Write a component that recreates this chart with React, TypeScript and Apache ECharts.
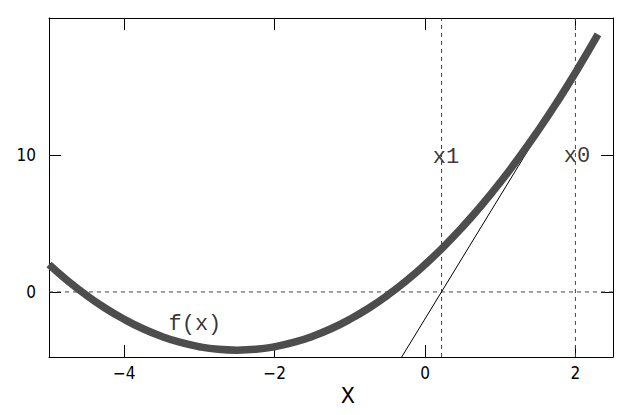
import React, { useEffect, useRef } from "react";
import * as echarts from "echarts";

// f(x)
const curveX = [
  -5, -4.75, -4.5, -4.25, -4, -3.75, -3.5, -3.25, -3, -2.75, -2.5, -2.25, -2, -1.75, -1.5, -1.25,
  -1, -0.75, -0.5, -0.25, 0, 0.25, 0.5, 0.75, 1, 1.25, 1.5, 1.75, 2, 2.3,
];
const curveY = [
  2, 0.81, -0.25, -1.19, -2, -2.69, -3.25, -3.69, -4, -4.19, -4.25, -4.19, -4, -3.69, -3.25, -2.69,
  -2, -1.19, -0.25, 0.81, 2, 3.31, 4.75, 6.31, 8, 9.81, 11.75, 13.81, 16, 18.8,
];

// tangent at x0
const tangentX = [-0.31, 2];
const tangentY = [-4.75, 16];

const x0 = 2;
const x1 = 0.22;

const xTicks = [-4, -2, 0, 2];
const yTicks = [0, 10];

const X_MIN = -5;
const X_MAX = 2.5;
const Y_MIN = -4.75;
const Y_MAX = 20;

const labels = [
  { name: "x1", x: 0.28, y: 9.8 },
  { name: "x0", x: 2.02, y: 9.9 },
  { name: "f(x)", x: -3.06, y: -2.4 },
];

const MONO = "'Liberation Mono', 'Courier New', monospace";
const NARROW = "'Liberation Sans Narrow', 'DejaVu Sans Condensed', 'Liberation Sans', sans-serif";

const fmt = (v: number) => String(v).replace("-", "\u2212");

export default function App() {
  const ref = useRef<HTMLDivElement>(null);
  useEffect(() => {
    if (!ref.current) return;
    const chart = echarts.init(ref.current, null, { renderer: "svg" });
    const axisLine = { show: true, onZero: false, lineStyle: { color: "#000", width: 1 } };
    const dash = { color: "#444", width: 1, type: [4, 4] as any };
    chart.setOption({
      animation: false,
      backgroundColor: "#fff",
      grid: { left: 49, right: 12, top: 18, bottom: 58 },
      xAxis: [
        {
          type: "value",
          min: X_MIN,
          max: X_MAX,
          position: "bottom",
          axisLine,
          splitLine: { show: false },
          axisTick: { inside: true, length: 12, customValues: xTicks, lineStyle: { color: "#000" } },
          axisLabel: {
            customValues: xTicks,
            formatter: fmt,
            color: "#000",
            fontFamily: NARROW,
            fontSize: 17,
            margin: 7,
          },
          name: "X",
          nameLocation: "middle",
          nameGap: 25,
          nameTextStyle: { fontFamily: MONO, fontSize: 23, color: "#000", padding: [0, 0, 0, 34] },
        },
        {
          type: "value",
          min: X_MIN,
          max: X_MAX,
          position: "top",
          axisLine,
          splitLine: { show: false },
          axisTick: { inside: true, length: 12, customValues: xTicks, lineStyle: { color: "#000" } },
          axisLabel: { show: false },
        },
      ],
      yAxis: [
        {
          type: "value",
          min: Y_MIN,
          max: Y_MAX,
          position: "left",
          axisLine,
          splitLine: { show: false },
          axisTick: { inside: true, length: 12, customValues: yTicks, lineStyle: { color: "#000" } },
          axisLabel: {
            customValues: yTicks,
            formatter: fmt,
            color: "#000",
            fontFamily: NARROW,
            fontSize: 17,
            margin: 13,
          },
        },
        {
          type: "value",
          min: Y_MIN,
          max: Y_MAX,
          position: "right",
          axisLine,
          splitLine: { show: false },
          axisTick: { inside: true, length: 12, customValues: yTicks, lineStyle: { color: "#000" } },
          axisLabel: { show: false },
        },
      ],
      series: [
        {
          type: "line",
          data: [[X_MIN, 0], [X_MAX, 0]],
          symbol: "none",
          lineStyle: dash,
          silent: true,
        },
        {
          type: "line",
          data: [[x1, Y_MIN], [x1, Y_MAX]],
          symbol: "none",
          lineStyle: dash,
          silent: true,
        },
        {
          type: "line",
          data: [[x0, Y_MIN], [x0, Y_MAX]],
          symbol: "none",
          lineStyle: dash,
          silent: true,
        },
        {
          type: "line",
          data: tangentX.map((x, i) => [x, tangentY[i]]),
          symbol: "none",
          lineStyle: { color: "#000", width: 1 },
          silent: true,
        },
        {
          type: "line",
          data: curveX.map((x, i) => [x, curveY[i]]),
          smooth: true,
          symbol: "none",
          lineStyle: { color: "#4d4d4d", width: 7.5, cap: "butt" },
          silent: true,
        },
        {
          type: "scatter",
          data: labels.map((l) => ({ name: l.name, value: [l.x, l.y] })),
          symbolSize: 0,
          silent: true,
          label: {
            show: true,
            position: "inside",
            formatter: (p: any) => p.name,
            fontFamily: MONO,
            fontSize: 22,
            color: "#000",
          },
        },
      ],
    });
    return () => chart.dispose();
  }, []);
  return <div ref={ref} style={{ width: 625, height: 415, position: "absolute", left: 0, top: 0 }} />;
}
